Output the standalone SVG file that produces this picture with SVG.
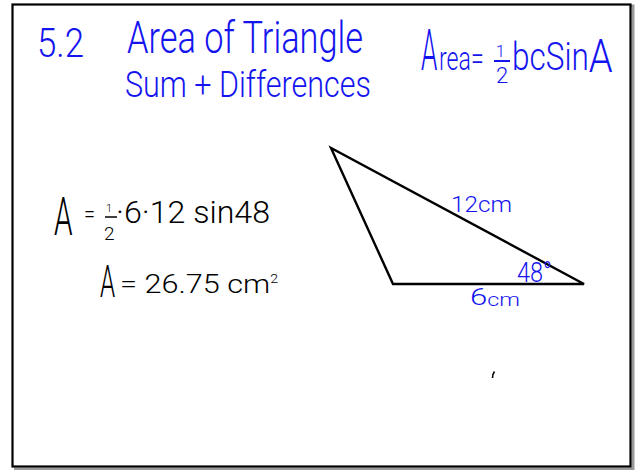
<svg xmlns="http://www.w3.org/2000/svg" width="639" height="470" viewBox="0 0 639 470">
<style>
.b{fill:#1414ee;font-family:Roboto,"Liberation Sans","DejaVu Sans",sans-serif;font-weight:300}
.k{fill:#000;font-family:Roboto,"Liberation Sans","DejaVu Sans",sans-serif;font-weight:300}
</style>
<rect width="639" height="470" fill="#fff"/>
<g id="frame">
<path d="M15 6 H633 V469 H14" fill="none" stroke="#9a9a9a" stroke-width="3"/>
<rect x="12.5" y="4.5" width="618" height="462" fill="#fff" stroke="#000" stroke-width="2.2"/>
</g>
<g id="title">
<text class="b" x="37" y="57" font-size="41" textLength="47" lengthAdjust="spacingAndGlyphs">5.2</text>
<text class="b" x="127" y="53" font-size="45" textLength="236" lengthAdjust="spacingAndGlyphs">Area of Triangle</text>
<text class="b" x="125" y="97" font-size="37" textLength="246" lengthAdjust="spacingAndGlyphs">Sum + Differences</text>
</g>
<g id="formula">
<text class="b" transform="translate(421,70) scale(0.45,1)" font-size="58">A</text>
<text class="b" transform="translate(439,70) scale(0.68,1)" font-size="34">rea=</text>
<text class="b" font-size="16"><tspan x="496" y="57">1</tspan><tspan x="496" y="83" font-size="22">2</tspan></text>
<line x1="494" y1="61" x2="510" y2="61" stroke="#1414ee" stroke-width="2"/>
<text class="b" transform="translate(512,70) scale(0.83,1)" font-size="38">bcSin<tspan font-size="46" dy="2">A</tspan></text>
</g>
<g id="work">
<text class="k" transform="translate(54,235) scale(0.55,1)" font-size="54">A</text>
<text class="k" x="84" y="223" font-size="26" textLength="11" lengthAdjust="spacingAndGlyphs">=</text>
<text class="k" font-size="11"><tspan x="106" y="212">1</tspan><tspan x="104" y="240" font-size="19">2</tspan></text>
<line x1="105" y1="217" x2="117" y2="217" stroke="#000" stroke-width="1.5"/>
<text class="k" x="116" y="223" font-size="32" textLength="154" lengthAdjust="spacingAndGlyphs">·6·12 sin48</text>
<text class="k" transform="translate(100,297) scale(0.55,1)" font-size="44">A</text>
<text class="k" x="120" y="293" font-size="26" textLength="158" lengthAdjust="spacingAndGlyphs">= 26.75 cm<tspan font-size="12" dy="-10">2</tspan></text>
</g>
<g id="triangle">
<polygon points="331,148 393,284 584,284" fill="none" stroke="#000" stroke-width="2.4" stroke-linejoin="miter"/>
</g>
<g id="labels">
<text class="b" x="451" y="212" font-size="22" textLength="61" lengthAdjust="spacingAndGlyphs">12cm</text>
<text class="b" x="517" y="282" font-size="28" textLength="35" lengthAdjust="spacingAndGlyphs">48°</text>
<text class="b" x="470" y="306" font-size="24" textLength="50" lengthAdjust="spacingAndGlyphs"><tspan dy="-1">6</tspan><tspan font-size="18" dy="1">cm</tspan></text>
</g>
<path id="mark" d="M494.5 371.5 Q492.5 374 492.5 378" fill="none" stroke="#000" stroke-width="1.6"/>
</svg>
